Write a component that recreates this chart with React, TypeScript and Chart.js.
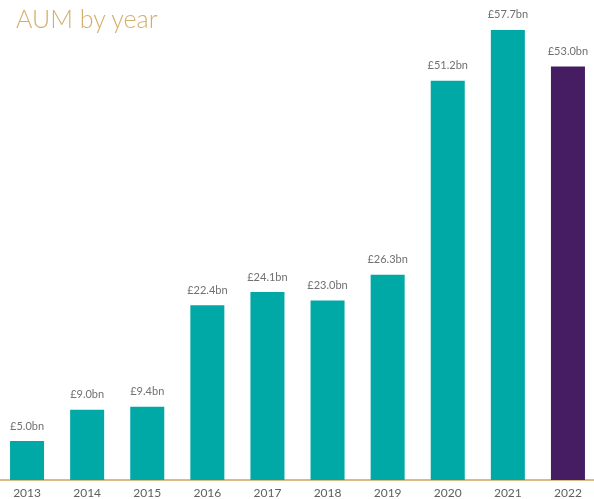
import React, { useEffect, useRef } from "react";
import { Chart, registerables } from "chart.js";

Chart.register(...registerables);

const years = ["2013", "2014", "2015", "2016", "2017", "2018", "2019", "2020", "2021", "2022"];
const aumValues = [5.0, 9.0, 9.4, 22.4, 24.1, 23.0, 26.3, 51.2, 57.7, 53.0];
const valueLabels = ["£5.0bn", "£9.0bn", "£9.4bn", "£22.4bn", "£24.1bn", "£23.0bn", "£26.3bn", "£51.2bn", "£57.7bn", "£53.0bn"];

const TEAL = "#00A8A6";
const PURPLE = "#461D63";
const GOLD = "#D9BC85";

const barColors = years.map((_, i) => (i === years.length - 1 ? PURPLE : TEAL));

const valueLabelPlugin = {
  id: "valueLabels",
  afterDatasetsDraw(chart: any) {
    const { ctx } = chart;
    const meta = chart.getDatasetMeta(0);
    ctx.save();
    ctx.font = "11px Lato, 'Open Sans', sans-serif";
    ctx.fillStyle = "#707070";
    ctx.textAlign = "center";
    ctx.textBaseline = "middle";
    meta.data.forEach((bar: any, i: number) => {
      ctx.fillText(valueLabels[i], bar.x, bar.y - 15);
    });
    ctx.restore();
  },
};

export default function App() {
  const canvasRef = useRef<HTMLCanvasElement | null>(null);

  useEffect(() => {
    document.body.style.overflow = "hidden";
    const canvas = canvasRef.current;
    if (!canvas) return;
    const chart = new Chart(canvas, {
      type: "bar",
      data: {
        labels: years,
        datasets: [
          {
            data: aumValues,
            backgroundColor: barColors,
            borderWidth: 0,
            barPercentage: 0.566,
            categoryPercentage: 1,
          },
        ],
      },
      options: {
        animation: false,
        responsive: false,
        maintainAspectRatio: false,
        layout: { padding: { top: 12, left: 0, right: 0, bottom: 0 } },
        plugins: {
          legend: { display: false },
          tooltip: { enabled: false },
          title: { display: false },
        },
        scales: {
          x: {
            grid: { display: false, drawTicks: false },
            border: { display: true, color: GOLD, width: 2 },
            ticks: {
              padding: 6,
              color: "#606060",
              font: { size: 12, family: "Lato, 'Open Sans', sans-serif" },
              maxRotation: 0,
              autoSkip: false,
            },
            afterFit: (scale: any) => {
              scale.height = 19;
            },
          },
          y: {
            display: false,
            min: 0,
            max: 60,
          },
        },
      },
      plugins: [valueLabelPlugin],
    });
    return () => chart.destroy();
  }, []);

  return (
    <div style={{ position: "fixed", left: -3, top: 0, width: 601, height: 499, background: "#ffffff" }}>
      <canvas ref={canvasRef} width={601} height={499} style={{ display: "block" }} />
      <div
        style={{
          position: "absolute",
          left: 19,
          top: 2,
          fontFamily: "Lato, 'Open Sans', sans-serif",
          fontWeight: 300,
          fontSize: 25,
          color: "#D4AF6B",
          lineHeight: "33px",
          whiteSpace: "nowrap",
        }}
      >
        AUM by year
      </div>
    </div>
  );
}
